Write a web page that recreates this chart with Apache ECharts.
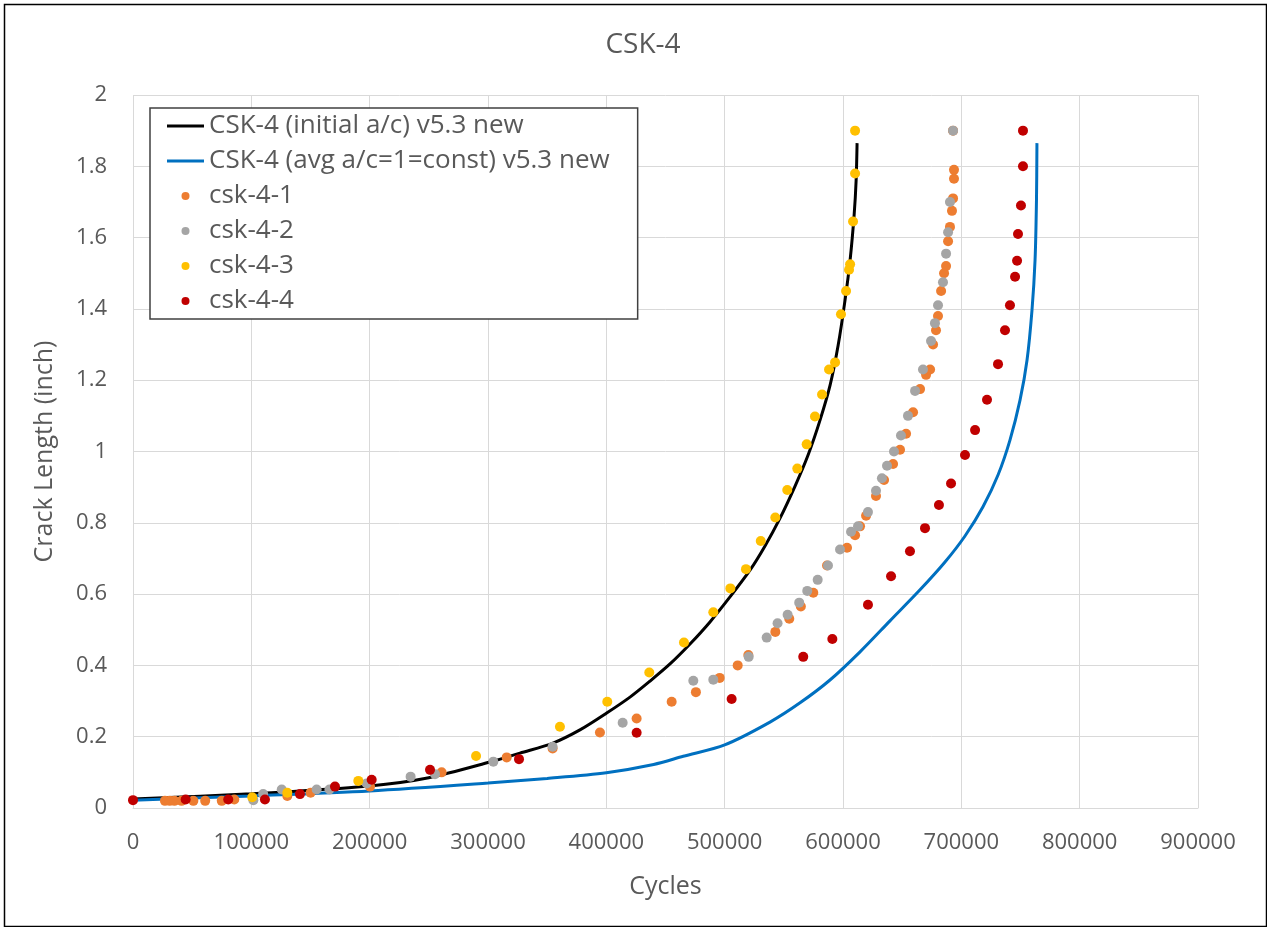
<!DOCTYPE html>
<html>
<head>
<meta charset="utf-8">
<script src="https://cdn.jsdelivr.net/npm/echarts@6/dist/echarts.min.js"></script>
<style>
  html, body { margin: 0; padding: 0; background: #fff; }
  #chart { width: 1267px; height: 927px; }
</style>
</head>
<body>
<div id="chart"></div>
<script>
// model curves [cycles, crack length]
const initialAc = [
  [0, 0.025], [100000, 0.04], [200000, 0.062], [250000, 0.085], [301700, 0.129],
  [327000, 0.154], [354900, 0.182], [377700, 0.219], [400600, 0.267], [420000, 0.311],
  [436900, 0.356], [453800, 0.404], [470700, 0.46], [487600, 0.522], [504500, 0.592],
  [521400, 0.667], [534100, 0.735], [546800, 0.813], [559500, 0.903], [570500, 0.99],
  [580600, 1.088], [589100, 1.186], [595900, 1.298], [601700, 1.424], [606000, 1.537],
  [609400, 1.663], [611100, 1.761], [611900, 1.865]
];
const avgAc = [
  [0, 0.022], [100000, 0.034], [200000, 0.048], [300000, 0.07], [350000, 0.083],
  [400000, 0.099], [440000, 0.122], [465000, 0.145], [500000, 0.177], [538300, 0.241],
  [563700, 0.295], [589000, 0.359], [614400, 0.438], [639700, 0.525], [665100, 0.612],
  [686200, 0.69], [703100, 0.763], [718300, 0.845], [731000, 0.934], [741100, 1.032],
  [749600, 1.144], [755500, 1.256], [759700, 1.396], [762300, 1.537], [763500, 1.705],
  [763900, 1.865]
];

// test points
const csk41 = [
  [27000, 0.02], [31000, 0.02], [35000, 0.02], [41000, 0.02], [51000, 0.02], [61000, 0.02],
  [75000, 0.02], [85600, 0.024], [130400, 0.034], [150100, 0.043], [200300, 0.06], [260800, 0.1],
  [315800, 0.142], [354600, 0.167], [394600, 0.212], [425600, 0.251], [455200, 0.298],
  [475700, 0.325], [495800, 0.365], [511000, 0.4], [520000, 0.429], [542800, 0.494],
  [554600, 0.531], [564400, 0.565], [574900, 0.604], [586500, 0.68], [603400, 0.73],
  [610200, 0.765], [614400, 0.79], [619500, 0.82], [627900, 0.875], [634700, 0.92],
  [642300, 0.965], [648200, 1.005], [653300, 1.05], [659200, 1.11], [665100, 1.175],
  [670200, 1.215], [673600, 1.23], [676100, 1.3], [678600, 1.34], [680300, 1.38],
  [682900, 1.45], [685400, 1.5], [687100, 1.52], [688800, 1.59], [690400, 1.63],
  [692100, 1.675], [693000, 1.71], [693800, 1.765], [693800, 1.79], [693000, 1.9]
];
const csk42 = [
  [101700, 0.022], [110000, 0.039], [125700, 0.052], [155200, 0.052], [166000, 0.052],
  [197500, 0.069], [234600, 0.088], [255200, 0.095], [304500, 0.13], [354600, 0.172],
  [413800, 0.239], [473500, 0.357], [490400, 0.36], [520300, 0.424], [535500, 0.478],
  [544700, 0.518], [553200, 0.542], [563000, 0.576], [569800, 0.609], [578600, 0.64],
  [587300, 0.68], [597500, 0.725], [606800, 0.775], [612700, 0.79], [621100, 0.83],
  [627900, 0.89], [632900, 0.925], [637200, 0.96], [643100, 1.0], [649000, 1.045],
  [654900, 1.1], [660900, 1.17], [667600, 1.23], [674400, 1.31], [677700, 1.36],
  [680300, 1.41], [684500, 1.475], [687100, 1.555], [688800, 1.615], [690400, 1.7], [693000, 1.9]
];
const csk43 = [
  [100800, 0.03], [130400, 0.043], [190400, 0.076], [289900, 0.146], [360800, 0.228],
  [400800, 0.298], [436300, 0.38], [465600, 0.464], [490400, 0.549], [504800, 0.616],
  [518000, 0.67], [530500, 0.749], [542800, 0.815], [552900, 0.892], [561400, 0.952],
  [569300, 1.02], [576300, 1.098], [582300, 1.16], [588200, 1.23], [593300, 1.25],
  [598300, 1.385], [602600, 1.45], [605100, 1.51], [606000, 1.525], [608500, 1.645],
  [610200, 1.78], [610200, 1.9]
];
const csk44 = [
  [0, 0.022], [44500, 0.024], [80500, 0.024], [111500, 0.024], [141100, 0.039], [170700, 0.06],
  [201700, 0.079], [251000, 0.107], [326200, 0.137], [425600, 0.211], [505900, 0.306],
  [566400, 0.424], [591000, 0.474], [621100, 0.57], [640600, 0.65], [656600, 0.72],
  [669300, 0.785], [681100, 0.85], [691300, 0.91], [703100, 0.99], [711600, 1.06],
  [721700, 1.145], [731000, 1.245], [736900, 1.34], [741100, 1.41], [745400, 1.49],
  [747100, 1.535], [747900, 1.61], [750400, 1.69], [752100, 1.8], [752100, 1.9]
];

const seriesNames = [
  'CSK-4 (initial a/c) v5.3 new',
  'CSK-4 (avg a/c=1=const) v5.3 new',
  'csk-4-1', 'csk-4-2', 'csk-4-3', 'csk-4-4'
];

const textColor = '#595959';
const fontFamily = "'Open Sans', 'Liberation Sans', sans-serif";
const lineIcon = 'path://M0,0 H37 V3 H0 Z';

const chart = echarts.init(document.getElementById('chart'), null, { renderer: 'canvas' });

function lineSeries(name, data, color) {
  return {
    name, type: 'line', data, smooth: 0.3, symbol: 'none',
    lineStyle: { color, width: 3 }, itemStyle: { color }, z: 2
  };
}
function dotSeries(name, data, color) {
  return { name, type: 'scatter', data, symbol: 'circle', symbolSize: 10, itemStyle: { color, opacity: 1 }, z: 3 };
}

chart.setOption({
  animation: false,
  backgroundColor: '#fff',
  textStyle: { fontFamily },
  title: {
    text: 'CSK-4', left: 638, top: 26, textAlign: 'center',
    textStyle: { color: textColor, fontSize: 28, fontWeight: 'normal', fontFamily }
  },
  graphic: [{
    type: 'rect', left: 2, top: 2, silent: true,
    shape: { width: 1262, height: 922 },
    style: { fill: 'none', stroke: '#000', lineWidth: 1.5 }
  }],
  legend: {
    orient: 'vertical', left: 150, top: 108,
    backgroundColor: '#fff', borderColor: '#404040', borderWidth: 1.5, borderRadius: 0,
    padding: [5, 28, 5, 17], itemGap: 9, itemWidth: 37, itemHeight: 8,
    textStyle: { color: textColor, fontSize: 26, fontFamily },
    data: [
      { name: seriesNames[0], icon: lineIcon }, { name: seriesNames[1], icon: lineIcon },
      { name: seriesNames[2], icon: 'circle' }, { name: seriesNames[3], icon: 'circle' },
      { name: seriesNames[4], icon: 'circle' }, { name: seriesNames[5], icon: 'circle' }
    ]
  },
  grid: { left: 133, right: 69, top: 95, bottom: 119 },
  xAxis: {
    type: 'value', min: 0, max: 900000, interval: 100000,
    name: 'Cycles', nameLocation: 'middle', nameGap: 66,
    nameTextStyle: { color: textColor, fontSize: 25, fontFamily },
    axisLine: { show: true, lineStyle: { color: '#d9d9d9' } },
    axisTick: { show: false },
    axisLabel: { color: textColor, fontSize: 22, margin: 24, fontFamily, formatter: (v) => String(v) },
    splitLine: { show: true, lineStyle: { color: '#d9d9d9', width: 1 } }
  },
  yAxis: {
    type: 'value', min: 0, max: 2, interval: 0.2,
    name: 'Crack Length (inch)', nameLocation: 'middle', nameGap: 76,
    nameTextStyle: { color: textColor, fontSize: 25, fontFamily },
    axisLine: { show: false },
    axisTick: { show: false },
    axisLabel: { color: textColor, fontSize: 22, margin: 26, fontFamily },
    splitLine: { show: true, lineStyle: { color: '#d9d9d9', width: 1 } }
  },
  series: [
    lineSeries(seriesNames[0], initialAc, '#000000'),
    lineSeries(seriesNames[1], avgAc, '#0070c0'),
    dotSeries(seriesNames[2], csk41, '#ed7d31'),
    dotSeries(seriesNames[3], csk42, '#a5a5a5'),
    dotSeries(seriesNames[4], csk43, '#ffc000'),
    dotSeries(seriesNames[5], csk44, '#c00000')
  ]
});
</script>
</body>
</html>
